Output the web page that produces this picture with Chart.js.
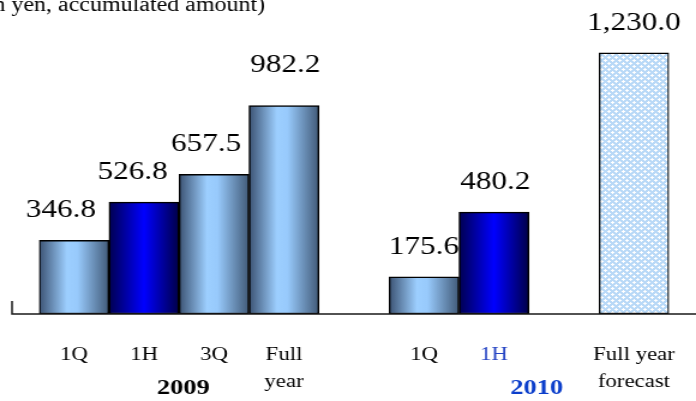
<!DOCTYPE html>
<html>
<head>
<meta charset="utf-8">
<script src="https://cdn.jsdelivr.net/npm/chart.js@4.4.1/dist/chart.umd.min.js"></script>
<style>
  html, body { margin: 0; padding: 0; background: #fff; overflow: hidden; }
</style>
</head>
<body>
<!-- drawn on a narrower canvas and widened, giving the wide serif look -->
<canvas id="c" width="580" height="401" style="display:block;width:696px;height:401px"></canvas>
<script>
// Cumulative sales by period
const categories = ['1Q', '1H', '3Q', ['Full', 'year'], '', '1Q', '1H', '', ['Full year', 'forecast']];
const revenue    = [346.8, 526.8, 657.5, 982.2, null, 175.6, 480.2, null, 1230.0];
const fiscalYears = ['2009', '2010'];
const unitNote = '(100 million yen, accumulated amount)';

const SERIF = '"Liberation Serif", "Times New Roman", serif';

function fmt(v) {
  return v.toLocaleString('en-US', { minimumFractionDigits: 1, maximumFractionDigits: 1 });
}

// cross-hatch fill for the forecast bar
function makeHatch() {
  const p = document.createElement('canvas');
  p.width = 6; p.height = 6;
  const g = p.getContext('2d');
  g.fillStyle = '#b9d9f7';
  g.fillRect(0, 0, 6, 6);
  g.fillStyle = '#ffffff';
  [[3,2],[2,3],[3,3],[4,3],[3,4],[0,0],[1,0],[5,0],[0,1],[0,5]].forEach(([x, y]) => g.fillRect(x, y, 1, 1));
  return g.createPattern(p, 'repeat');
}
let hatch = null;

function barFill(ctx) {
  const chart = ctx.chart;
  const i = ctx.dataIndex;
  const label = categories[i];
  const text = Array.isArray(label) ? label.join(' ') : label;
  if (text.includes('forecast')) {
    if (!hatch) hatch = makeHatch();
    return hatch;
  }
  const half = text === '1H';
  const xs = chart.scales && chart.scales.x;
  if (!xs || !chart.chartArea) return half ? '#0000e0' : '#8fbce8';
  const cx = xs.getPixelForValue(i);
  const w = xs.width / categories.length / 2;
  const g = chart.ctx.createLinearGradient(cx - w, 0, cx + w, 0);
  if (half) {
    g.addColorStop(0, '#000050');
    g.addColorStop(0.5, '#0000ff');
    g.addColorStop(1, '#000048');
  } else {
    g.addColorStop(0, '#3b5272');
    g.addColorStop(0.4, '#9dcfff');
    g.addColorStop(0.55, '#98cafc');
    g.addColorStop(1, '#415a78');
  }
  return g;
}

// baseline, axis stub, value labels, year labels and the unit note
const annotate = {
  id: 'annotate',
  afterDatasetsDraw(chart, args, opts) {
    const { ctx } = chart;
    const y0 = chart.scales.y.getPixelForValue(0);
    ctx.save();
    ctx.strokeStyle = '#1a1a1a';
    ctx.lineWidth = 1.5;
    ctx.beginPath();
    ctx.moveTo(opts.axisLeft, y0 - 13);
    ctx.lineTo(opts.axisLeft, y0);
    ctx.lineTo(chart.width, y0);
    ctx.stroke();

    ctx.font = '26px ' + SERIF;
    ctx.textAlign = 'center';
    ctx.textBaseline = 'middle';
    ctx.fillStyle = '#000';
    const meta = chart.getDatasetMeta(0);
    meta.data.forEach((bar, i) => {
      const v = revenue[i];
      if (v === null || v === undefined) return;
      const n = opts.nudge[i] || [0, 0];
      ctx.fillText(fmt(v), bar.x + n[0], bar.y - opts.gap + n[1]);
    });

    const xs = chart.scales.x;
    ctx.font = 'bold 22px ' + SERIF;
    fiscalYears.forEach((yr, k) => {
      ctx.fillStyle = opts.yearColors[k];
      ctx.fillText(yr, xs.getPixelForValue(opts.yearAt[k]), opts.yearY);
    });

    ctx.font = '20px ' + SERIF;
    ctx.textAlign = 'right';
    ctx.textBaseline = 'alphabetic';
    ctx.fillStyle = '#000';
    ctx.fillText(unitNote, opts.noteRight, opts.noteBaseline);
    ctx.restore();
  }
};

new Chart(document.getElementById('c'), {
  type: 'bar',
  data: {
    labels: categories,
    datasets: [{
      data: revenue,
      backgroundColor: barFill,
      borderColor: '#000',
      borderWidth: 1.5,
      borderSkipped: false,
      categoryPercentage: 1,
      barPercentage: 1
    }]
  },
  options: {
    responsive: false,
    animation: false,
    layout: { padding: { left: 32.5, right: 22.5, top: 38, bottom: 0 } },
    plugins: {
      legend: { display: false },
      tooltip: { enabled: false },
      annotate: {
        axisLeft: 10,
        gap: 30,
        nudge: { 0: [-11, 0], 1: [-9.5, 0], 2: [-6.5, 0], 3: [1, -10], 6: [1, 0] },
        yearAt: [1.56, 6.61],
        yearY: 388,
        yearColors: ['#000000', '#0b3ecb'],
        noteRight: 221,
        noteBaseline: 11
      }
    },
    scales: {
      x: {
        grid: { display: false },
        border: { display: false },
        ticks: {
          autoSkip: false,
          minRotation: 0,
          maxRotation: 0,
          padding: 19,
          color: (c) => (c.index === 6 ? '#2645c4' : '#000'),
          font: { family: SERIF, size: 19, lineHeight: 1.45 }
        },
        afterFit(scale) {
          scale.height = 87;
          scale.paddingLeft = 0;
          scale.paddingRight = 0;
        }
      },
      y: {
        display: false,
        min: 0,
        max: 1300
      }
    }
  },
  plugins: [annotate]
});
</script>
</body>
</html>
